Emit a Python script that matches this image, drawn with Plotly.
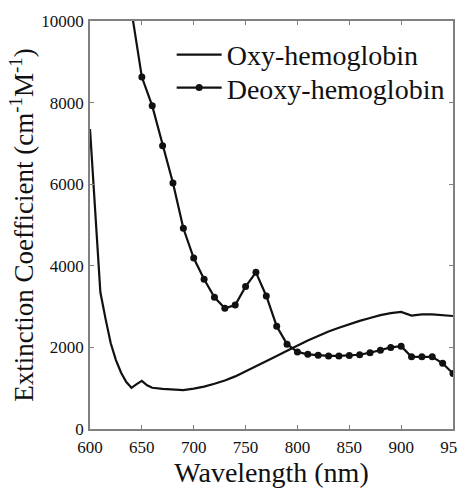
import plotly.graph_objects as go

# Oxy-hemoglobin (solid line)
oxy_nm = [600, 605, 610, 615, 620, 625, 630, 635, 640, 645, 650, 655, 660, 670, 680, 690,
          700, 710, 720, 730, 740, 750, 760, 770, 780, 790, 800, 810, 820, 830, 840, 850,
          860, 870, 880, 890, 900, 910, 920, 930, 940, 950]
oxy_val = [7350, 5350, 3350, 2700, 2100, 1690, 1380, 1150, 1010, 1100, 1180, 1070, 1010, 985, 965, 955,
           990, 1040, 1110, 1190, 1290, 1410, 1530, 1660, 1790, 1920, 2050, 2170, 2280, 2390, 2480, 2570,
           2650, 2720, 2790, 2840, 2870, 2780, 2810, 2810, 2790, 2770]

# Deoxy-hemoglobin (line with markers)
deoxy_nm = [640, 650, 660, 670, 680, 690, 700, 710, 720, 730, 740, 750, 760, 770, 780, 790,
            800, 810, 820, 830, 840, 850, 860, 870, 880, 890, 900, 910, 920, 930, 940, 950]
deoxy_val = [10250, 8625, 7920, 6940, 6030, 4920, 4190, 3670, 3230, 2960, 3040, 3490, 3840, 3260, 2520, 2080,
             1890, 1830, 1810, 1790, 1790, 1800, 1820, 1870, 1930, 2000, 2030, 1770, 1770, 1770, 1610, 1360]

x_ticks = [600, 650, 700, 750, 800, 850, 900, 950]
y_ticks = [0, 2000, 4000, 6000, 8000, 10000]

FONT = "'Liberation Serif', 'Times New Roman', Times, serif"
AX = "#808080"
INK = "#111111"

fig = go.Figure()
fig.add_trace(go.Scatter(x=oxy_nm, y=oxy_val, mode="lines", name="Oxy-hemoglobin",
                         line=dict(color=INK, width=2.2), legend="legend"))
fig.add_trace(go.Scatter(x=deoxy_nm, y=deoxy_val, mode="lines+markers", name="Deoxy-hemoglobin",
                         line=dict(color=INK, width=2.2),
                         marker=dict(color=INK, size=7, symbol="circle"), legend="legend2"))

axis_common = dict(showline=True, linecolor=AX, linewidth=1.5, mirror="ticks",
                   ticks="inside", ticklen=4, tickcolor=AX, showgrid=False, zeroline=False,
                   ticklabeloverflow="allow",
                   tickfont=dict(family=FONT, size=17, color=INK))

fig.update_xaxes(range=[600, 950], tickvals=x_ticks, ticktext=[str(v) for v in x_ticks],
                 title=dict(text="Wavelength (nm)", font=dict(family=FONT, size=28, color=INK),
                            standoff=18),
                 ticklabelstandoff=2, **axis_common)
fig.update_yaxes(range=[0, 10000], tickvals=y_ticks, ticktext=[str(v) for v in y_ticks],
                 title=dict(text="Extinction Coefficient (cm<sup>-1</sup>M<sup>-1</sup>)",
                            font=dict(family=FONT, size=27, color=INK), standoff=0),
                 ticklabelstandoff=1, **axis_common)

legend_common = dict(xanchor="left", yanchor="middle", bgcolor="rgba(0,0,0,0)", borderwidth=0,
                     font=dict(family=FONT, size=28, color=INK), itemwidth=45)

fig.update_layout(
    width=457, height=488,
    margin=dict(l=90, r=4, t=21, b=59, autoexpand=False),
    paper_bgcolor="white", plot_bgcolor="white",
    font=dict(family=FONT, color=INK),
    showlegend=True,
    legend=dict(x=0.225, y=0.917, **legend_common),
    legend2=dict(x=0.225, y=0.836, **legend_common),
)

fig.write_html("out.html")
